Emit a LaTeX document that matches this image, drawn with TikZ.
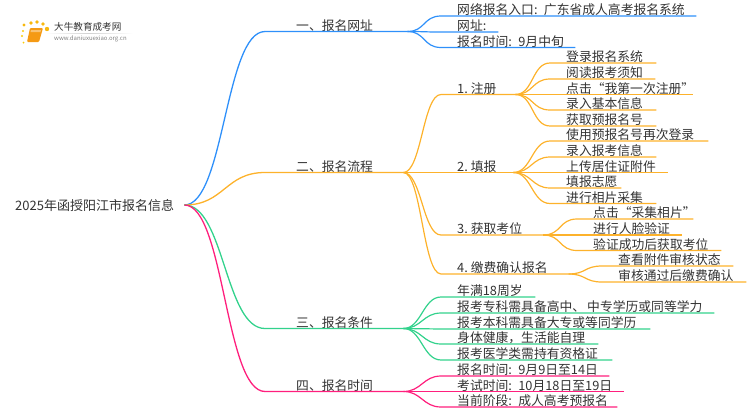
\documentclass[tikz,border=0pt]{standalone}
\usepackage{fontspec}
\setmainfont{Noto Sans CJK SC}
\definecolor{inkgray}{HTML}{333333}
\definecolor{bluebranch}{HTML}{2E90FA}
\definecolor{orangebranch}{HTML}{FDB22B}
\definecolor{greenbranch}{HTML}{32D28C}
\definecolor{pinkbranch}{HTML}{FF1F7D}
\definecolor{bookorange}{HTML}{F59A14}
\tikzset{
  label text/.style={inner sep=0pt,anchor=south west,align=left,text=inkgray,font=\fontsize{12.8}{14}\selectfont,text depth=1pt},
  topic/.style={label text,text width=#1pt,execute at begin node=\hspace*{31pt}},
  item/.style={label text,text width=#1pt,execute at begin node=\hspace*{16pt}},
  trunk/.style={line width=1.3pt,out=0,in=180,distance=40pt},
  twig/.style={line width=1.2pt,out=0,in=180,distance=18pt}
}
\begin{document}
\begin{tikzpicture}[x=1pt,y=-1pt]
      \useasboundingbox (0,0) rectangle (750,410);
      % logo
      \fill[bookorange!70!yellow] (24,25) circle (1.6) (31,23) circle (1.9) (37,22) circle (1.9) (43,24) circle (1.9) (47,29) circle (2.2);
      \fill[bookorange!50!yellow] (23,31) circle (1.2) (22,36) circle (1.1) (23.5,42.5) circle (1);
      \fill[bookorange,rounded corners=1pt] (30,28) -- (43,28) -- (39,42) -- (27,42) -- cycle;
      \fill[bookorange!60!white] (31,30) -- (41,30) -- (40.5,32) -- (30.5,32) -- cycle;
      \shade[left color=white,right color=white,middle color=gray!35] (45,33) rectangle (133,33.8);
      \node[inner sep=0pt,anchor=west,text=inkgray,font=\fontsize{9.6}{11}\selectfont] (logoname) at (54,27) {大牛教育成考网};
      \node[inner sep=0pt,anchor=west,text=gray,font=\fontsize{6}{7}\selectfont] (logourl) at (54,38.5) {www.daniuxuexiao.org.cn};
      % root
      \node[label text,anchor=west,text width=169pt,text depth=0pt,font=\fontsize{13}{14}\selectfont] (root) at (15,205) {2025年函授阳江市报名信息};
      % first level
      \node[topic=142] (website) at (265,31.5) {一、报名网址};
      \node[topic=138] (process) at (265,172.5) {二、报名流程};
      \node[topic=138] (terms) at (265,328.5) {三、报名条件};
      \node[topic=138] (dates) at (265,391.5) {四、报名时间};
      % website items
      \node[item=255] (portal) at (441,16) {网络报名入口: 广东省成人高考报名系统};
      \node[item=57] (address) at (441,32) {网址:};
      \node[item=134] (opentime) at (441,47.5) {报名时间: 9月中旬};
      % process steps
      \node[item=74] (signup) at (441,94.5) {1.\hspace{3pt}注册};
      \node[item=72] (fillin) at (441,172.5) {2.\hspace{3pt}填报};
      \node[item=102] (seat) at (441,235) {3.\hspace{3pt}获取考位};
      \node[item=127] (payment) at (441,274) {4.\hspace{3pt}缴费确认报名};
      % step 1
      \node[item=106] (signupa) at (550,63) {登录报名系统};
      \node[item=105] (signupb) at (550,79) {阅读报考须知};
      \node[item=143] (signupc) at (550,94.5) {点击“我第一次注册”};
      \node[item=106] (signupd) at (550,110) {录入基本信息};
      \node[item=106] (signupe) at (550,126) {获取预报名号};
      % step 2
      \node[item=158] (fillina) at (550,141) {使用预报名号再次登录};
      \node[item=106] (fillinb) at (550,157) {录入报考信息};
      \node[item=118] (fillinc) at (550,172.5) {上传居住证附件};
      \node[item=71] (fillind) at (550,188) {填报志愿};
      \node[item=106] (filline) at (550,203.5) {进行相片采集};
      % step 3
      \node[item=116] (seata) at (577,219) {点击“采集相片”};
      \node[item=105] (seatb) at (577,235) {进行人脸验证};
      \node[item=144] (seatc) at (577,250.5) {验证成功后获取考位};
      % step 4
      \node[item=131] (paymenta) at (602,266) {查看附件审核状态};
      \node[item=144] (paymentb) at (602,282) {审核通过后缴费确认};
      % conditions
      \node[item=94] (terma) at (441,297) {年满18周岁};
      \node[item=273] (termb) at (441,313) {报考专科需具备高中、\hspace{2pt}中专学历或同等学力};
      \node[item=209] (termc) at (441,329) {报考本科需具备大专或等同学历};
      \node[item=157] (termd) at (441,344) {身体健康，生活能自理};
      \node[item=171] (terme) at (441,360) {报考医学类需持有资格证};
      % dates
      \node[item=168] (datea) at (441,376) {报名时间: 9月9日至14日};
      \node[item=183] (dateb) at (441,391.5) {考试时间: 10月18日至19日};
      \node[item=176] (datec) at (441,407) {当前阶段: 成人高考预报名};
      % connectors
      \begin{scope}[bluebranch]
        \draw[trunk] (root.east) to (website.south west) -- (website.south east);
        \draw[twig] (website.south east) to (portal.south west) -- (portal.south east);
        \draw[twig] (website.south east) to (address.south west) -- (address.south east);
        \draw[twig] (website.south east) to (opentime.south west) -- (opentime.south east);
      \end{scope}
      \begin{scope}[orangebranch]
        \draw[trunk] (root.east) to (process.south west) -- (process.south east);
        \draw[twig] (process.south east) to (signup.south west) -- (signup.south east);
        \draw[twig] (process.south east) to (fillin.south west) -- (fillin.south east);
        \draw[twig] (process.south east) to (seat.south west) -- (seat.south east);
        \draw[twig] (process.south east) to (payment.south west) -- (payment.south east);
        \draw[twig] (signup.south east) to (signupa.south west) -- (signupa.south east);
        \draw[twig] (signup.south east) to (signupb.south west) -- (signupb.south east);
        \draw[twig] (signup.south east) to (signupc.south west) -- (signupc.south east);
        \draw[twig] (signup.south east) to (signupd.south west) -- (signupd.south east);
        \draw[twig] (signup.south east) to (signupe.south west) -- (signupe.south east);
        \draw[twig] (fillin.south east) to (fillina.south west) -- (fillina.south east);
        \draw[twig] (fillin.south east) to (fillinb.south west) -- (fillinb.south east);
        \draw[twig] (fillin.south east) to (fillinc.south west) -- (fillinc.south east);
        \draw[twig] (fillin.south east) to (fillind.south west) -- (fillind.south east);
        \draw[twig] (fillin.south east) to (filline.south west) -- (filline.south east);
        \draw[twig] (seat.south east) to (seata.south west) -- (seata.south east);
        \draw[twig] (seat.south east) to (seatb.south west) -- (seatb.south east);
        \draw[twig] (seat.south east) to (seatc.south west) -- (seatc.south east);
        \draw[twig] (payment.south east) to (paymenta.south west) -- (paymenta.south east);
        \draw[twig] (payment.south east) to (paymentb.south west) -- (paymentb.south east);
      \end{scope}
      \begin{scope}[greenbranch]
        \draw[trunk] (root.east) to (terms.south west) -- (terms.south east);
        \draw[twig] (terms.south east) to (terma.south west) -- (terma.south east);
        \draw[twig] (terms.south east) to (termb.south west) -- (termb.south east);
        \draw[twig] (terms.south east) to (termc.south west) -- (termc.south east);
        \draw[twig] (terms.south east) to (termd.south west) -- (termd.south east);
        \draw[twig] (terms.south east) to (terme.south west) -- (terme.south east);
      \end{scope}
      \begin{scope}[pinkbranch]
        \draw[trunk] (root.east) to (dates.south west) -- (dates.south east);
        \draw[twig] (dates.south east) to (datea.south west) -- (datea.south east);
        \draw[twig] (dates.south east) to (dateb.south west) -- (dateb.south east);
        \draw[twig] (dates.south east) to (datec.south west) -- (datec.south east);
      \end{scope}
    \end{tikzpicture}
\end{document}
